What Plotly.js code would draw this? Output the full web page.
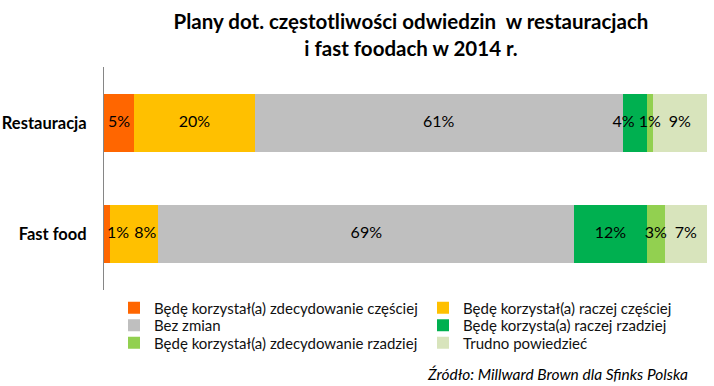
<!DOCTYPE html>
<html>
<head>
<meta charset="utf-8">
<script src="https://cdn.plot.ly/plotly-3.0.1.min.js"></script>
<style>html,body{margin:0;padding:0;background:#fff;}#chart{width:714px;height:386px;}</style>
</head>
<body>
<div id="chart"></div>
<script>
const categories = ['Restauracja', 'Fast food'];
const seriesNames = [
  'Będę korzystał(a) zdecydowanie częściej',
  'Będę korzystał(a) raczej częściej',
  'Bez zmian',
  'Będę korzysta(a) raczej rzadziej',
  'Będę korzystał(a) zdecydowanie rzadziej',
  'Trudno powiedzieć'
];
const restauracja = [5, 20, 61, 4, 1, 9];
const fastFood = [1, 8, 69, 12, 3, 7];
const colors = ['#FF6600', '#FFC000', '#BFBFBF', '#00B050', '#92D050', '#D8E4BC'];
const titleText = 'Plany dot. częstotliwości odwiedzin  w restauracjach<br>i fast foodach w 2014 r.';
const sourceText = 'Źródło: Millward Brown dla Sfinks Polska';

// label placement style (per category, per series) to avoid collisions on thin segments
const labelAnchor = [
  ['middle center', 'middle center', 'middle center', 'middle left', 'middle center', 'middle center'],
  ['middle right', 'middle right', 'middle center', 'middle center', 'middle center', 'middle center']
];

const FONT = 'Lato, "Open Sans", sans-serif';
const rows = [restauracja, fastFood];

// plot area in pixels (for placing legends/annotations in paper coords)
const M = {l: 104, r: 7, t: 67, b: 96};
const W = 714, H = 386;
const PW = W - M.l - M.r, PH = H - M.t - M.b;
const px2x = p => (p - M.l) / PW;
const py2y = p => (H - M.b - p) / PH;

const legendNames = ['legend', 'legend2', 'legend3', 'legend4', 'legend5', 'legend6'];

const traces = seriesNames.map((name, i) => ({
  type: 'bar',
  orientation: 'h',
  name: name,
  y: categories,
  x: rows.map(r => r[i]),
  marker: {color: colors[i], line: {width: 0}},
  legend: legendNames[i],
  hoverinfo: 'none'
}));

// labels drawn on top of all bars, at the middle of each stacked segment
const labelX = [], labelY = [], labelT = [], labelP = [];
rows.forEach((r, ci) => {
  let acc = 0;
  r.forEach((v, si) => {
    labelX.push(acc + v / 2);
    labelY.push(categories[ci]);
    labelT.push(v + '%');
    labelP.push(labelAnchor[ci][si]);
    acc += v;
  });
});
traces.push({
  type: 'scatter',
  mode: 'text',
  x: labelX,
  y: labelY,
  text: labelT,
  textposition: labelP,
  textfont: {family: FONT, size: 16, color: '#000'},
  cliponaxis: false,
  showlegend: false,
  hoverinfo: 'none'
});

const layout = {
  width: W,
  height: H,
  barmode: 'stack',
  bargap: 0.48,
  paper_bgcolor: '#fff',
  plot_bgcolor: '#fff',
  margin: M,
  font: {family: FONT, color: '#000'},
  title: {
    text: titleText,
    font: {family: FONT, size: 20.5, color: '#000', weight: 'bold'},
    x: 411 / W,
    xanchor: 'center',
    xref: 'container',
    y: 0.925,
    yanchor: 'top',
    yref: 'container'
  },
  xaxis: {
    range: [0, 100],
    visible: false,
    fixedrange: true
  },
  yaxis: {
    categoryorder: 'array',
    categoryarray: categories.slice().reverse(),
    showline: true,
    linecolor: '#868686',
    linewidth: 1,
    ticks: '',
    ticklabelstandoff: 13,
    tickfont: {family: FONT, size: 16.5, color: '#000', weight: 'bold'},
    showgrid: false,
    zeroline: false,
    fixedrange: true
  },
  showlegend: true,
  annotations: [{
    text: sourceText,
    xref: 'paper', yref: 'paper',
    x: px2x(690),
    xanchor: 'right',
    y: py2y(374),
    yanchor: 'middle',
    showarrow: false,
    font: {family: FONT, size: 15.5, color: '#000', style: 'italic'}
  }]
};

// two-column legend: 3 rows x 2 columns
const colLeft = [114, 423];
const rowMid = [308, 325.5, 343];
legendNames.forEach((ln, i) => {
  layout[ln] = {
    orientation: 'v',
    x: px2x(colLeft[i % 2]),
    xanchor: 'left',
    y: py2y(rowMid[Math.floor(i / 2)]),
    yanchor: 'middle',
    bgcolor: 'rgba(0,0,0,0)',
    borderwidth: 0,
    font: {family: FONT, size: 15, color: '#111'},
    itemclick: false,
    itemdoubleclick: false
  };
});

Plotly.newPlot('chart', traces, layout, {displayModeBar: false, staticPlot: true});
</script>
</body>
</html>
